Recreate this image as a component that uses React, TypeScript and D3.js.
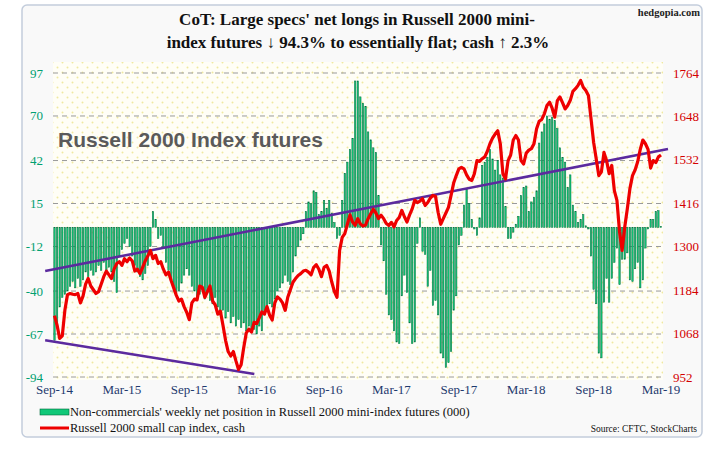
import React from "react";
import * as d3 from "d3";

const xLabels = ["Sep-14", "Mar-15", "Sep-15", "Mar-16", "Sep-16", "Mar-17", "Sep-17", "Mar-18", "Sep-18", "Mar-19"];
const leftTicks = [-94, -67, -40, -12, 15, 42, 70, 97];
const rightTicks = [952, 1068, 1184, 1300, 1416, 1532, 1648, 1764];

// Non-commercials' weekly net position (000), weekly Sep-14 .. Mar-19
const netPositions = [
  -71, -62, -50, -44, -42, -40, -37, -34, -38, -32, -37, -33, -28, -31, -27, -30, -28, -24, -27, -22,
  -29, -25, -28, -34, -41, -18, -14, -10, -7, -12, -18, -24, -28, -31, -33, -29, -24, -12, 10, 5,
  -7, -5, -12, -22, -27, -33, -37, -41, -40, -35, -30, -26, -30, -37, -40, -44, -42, -39, -45, -41,
  -46, -48, -44, -50, -55, -52, -57, -53, -60, -56, -62, -58, -63, -60, -65, -62, -66, -64, -67, -62,
  -65, -55, -52, -48, -50, -45, -40, -38, -35, -30, -34, -36, -28, -18, -12, -8, -4, 10, 16, 15,
  23, 22, 8, 10, 17, 12, 17, 9, 3, -7, -5, 17, 34, 41, 49, 56, 92, 92, 82, 78,
  76, 60, 55, 50, 47, 20, -11, -21, -42, -55, -58, -65, -72, -73, -43, -30, -41, -60, -73, -72,
  -10, 6, -15, -17, -37, -27, -49, -46, -55, -79, -82, -88, -85, -78, -52, -43, -11, -5, 14, 24,
  15, 5, -1, -5, 6, 39, 41, 44, 49, 43, 36, 42, 33, 31, 13, -7, -7, -3, 2, 7,
  20, 25, 26, 10, 16, 19, 23, 53, 60, 65, 70, 68, 69, 67, 62, 50, 44, 41, 25, 33,
  14, 10, 3, 5, 8, 1, -1, -18, -39, -48, -79, -82, -47, -32, -47, -32, -22, -13, -36, -20,
  -20, -16, -33, -34, -26, -22, -38, -33, -13, -1, 5, 5, 10, 10.5, 0.6,
];

// Russell 2000 small cap index, cash (weekly)
const russell = [
  1116, 1090, 1055, 1062, 1130, 1172, 1175, 1173, 1172, 1175, 1150, 1168, 1200, 1215, 1195, 1185, 1175, 1180, 1200, 1220,
  1235, 1225, 1215, 1240, 1255, 1260, 1250, 1268, 1260, 1270, 1262, 1235, 1240, 1228, 1245, 1262, 1275, 1290, 1268, 1277,
  1255, 1260, 1240, 1225, 1232, 1210, 1190, 1170, 1155, 1160, 1140, 1125, 1105, 1150, 1160, 1158, 1195, 1192, 1165, 1180,
  1195, 1155, 1145, 1120, 1128, 1090, 1050, 1020, 1008, 1020, 995, 972, 985, 1030, 1070, 1080, 1072, 1098, 1095, 1110,
  1126, 1120, 1140, 1117, 1104, 1150, 1166, 1160, 1150, 1130, 1165, 1185, 1205, 1215, 1223, 1228, 1235, 1237, 1232, 1225,
  1245, 1252, 1240, 1220, 1245, 1250, 1235, 1205, 1180, 1165, 1290, 1325, 1335, 1360, 1385, 1366, 1357, 1375, 1361, 1355,
  1358, 1375, 1388, 1400, 1390, 1375, 1384, 1375, 1362, 1357, 1365, 1353, 1370, 1378, 1397, 1380, 1366, 1385, 1401, 1424,
  1418, 1422, 1428, 1410, 1418, 1430, 1437, 1435, 1392, 1360, 1375, 1390, 1405, 1437, 1470, 1490, 1508, 1512, 1508, 1492,
  1480, 1477, 1495, 1530, 1528, 1535, 1540, 1555, 1575, 1590, 1601, 1610, 1575, 1495, 1481, 1530, 1545, 1585, 1597, 1585,
  1530, 1521, 1550, 1558, 1562, 1575, 1615, 1635, 1640, 1655, 1677, 1686, 1670, 1646, 1690, 1700, 1685, 1668, 1677, 1691,
  1715, 1722, 1731, 1744, 1726, 1717, 1704, 1642, 1579, 1535, 1490, 1500, 1552, 1530, 1495, 1517, 1450, 1424, 1340, 1290,
  1352, 1401, 1455, 1490, 1505, 1527, 1560, 1585, 1575, 1560, 1510, 1530, 1525, 1540, 1545,
];

// hand-drawn trend lines: [week index, index level]
const upperTrend: [number, number][] = [[-3.6, 1235], [236.7, 1561]];
const lowerTrend: [number, number][] = [[-3.6, 1050], [77.1, 960]];

const W = 724;
const H = 449;
const plotL = 53;
const plotR = 663;
const plotT = 73;
const plotB = 377;

export default function App() {
  const n = netPositions.length;
  const x = d3.scaleLinear().domain([0, n - 1]).range([54.5, 661]);
  const yL = d3.scaleLinear().domain([-94, 97]).range([plotB, plotT]);
  const yR = d3.scaleLinear().domain([952, 1764]).range([plotB, plotT]);
  const bw = 1.4;

  const line = d3
    .line<number>()
    .x((_, i) => x(i))
    .y((d) => yR(d))
    .curve(d3.curveLinear);

  const trend = d3
    .line<[number, number]>()
    .x((d) => x(d[0]))
    .y((d) => yR(d[1]));

  const serif = "'Liberation Serif', 'Times New Roman', serif";
  const sans = "'Liberation Sans', Arial, sans-serif";

  return (
    <svg
      width={W}
      height={H}
      style={{ position: "absolute", left: 0, top: 0, background: "#ffffff" }}
    >
      <defs>
        <pattern id="dots" width="10" height="10" patternUnits="userSpaceOnUse">
          <circle cx="2.5" cy="2.5" r="1" fill="#efe9a0" />
          <circle cx="7.5" cy="7.5" r="1" fill="#efe9a0" />
        </pattern>
      </defs>
      <rect x={22} y={5} width={680} height={432} rx={5} fill="#f9f9f9" stroke="#c3cddc" strokeWidth={1.5} />
      <rect x={plotL} y={62} width={plotR - plotL} height={318} fill="#fffef6" />
      <rect x={plotL} y={62} width={plotR - plotL} height={318} fill="url(#dots)" />

      {/* title */}
      <text x={700} y={16} textAnchor="end" fontFamily={serif} fontWeight="bold" fontSize={10.5} fill="#222">
        hedgopia.com
      </text>
      <text x={357} y={25} textAnchor="middle" fontFamily={serif} fontWeight="bold" fontSize={17} fill="#111">
        CoT: Large specs' net longs in Russell 2000 mini-
      </text>
      <text x={358} y={48} textAnchor="middle" fontFamily={serif} fontWeight="bold" fontSize={17} fill="#111">
        index futures ↓ 94.3% to essentially flat; cash ↑ 2.3%
      </text>

      {/* gridlines */}
      {leftTicks.map((t) => (
        <line
          key={t}
          x1={plotL}
          x2={plotR}
          y1={yL(t)}
          y2={yL(t)}
          stroke="#9a9a9a"
          strokeWidth={1}
          strokeDasharray="5,4"
        />
      ))}

      <text x={58} y={147} fontFamily={sans} fontWeight="bold" fontSize={21} fill="#5a5a5a">
        Russell 2000 Index futures
      </text>

      {/* bars */}
      {netPositions.map((v, i) => (
        <rect
          key={i}
          x={x(i) - bw / 2}
          y={yL(Math.max(0, v))}
          width={bw}
          height={Math.abs(yL(v) - yL(0))}
          fill="#10c878"
          stroke="#006b3c"
          strokeWidth={0.5}
        />
      ))}

      {/* trend lines */}
      <path d={trend(upperTrend) || ""} fill="none" stroke="#5b2a9e" strokeWidth={2.6} />
      <path d={trend(lowerTrend) || ""} fill="none" stroke="#5b2a9e" strokeWidth={2.6} />

      {/* russell line */}
      <path d={line(russell) || ""} fill="none" stroke="#ee0000" strokeWidth={3.2} strokeLinejoin="round" />

      {/* left axis labels */}
      {leftTicks.map((t) => (
        <text key={t} x={43} y={yL(t) + 4.5} textAnchor="end" fontFamily={serif} fontSize={13} fill="#00a070">
          {t}
        </text>
      ))}
      {/* right axis labels */}
      {rightTicks.map((t) => (
        <text key={t} x={673} y={yR(t) + 4.5} fontFamily={serif} fontSize={13} fill="#d40000">
          {t}
        </text>
      ))}
      {/* x labels */}
      {xLabels.map((l, k) => (
        <text
          key={l}
          x={x(k * 26)}
          y={394}
          textAnchor="middle"
          fontFamily={serif}
          fontSize={13}
          fill="#1f3a6e"
        >
          {l}
        </text>
      ))}

      {/* legend */}
      <rect x={40} y={409} width={29} height={6} fill="#10c878" stroke="#006b3c" strokeWidth={0.6} />
      <text x={70} y={416} fontFamily={serif} fontSize={12.5} fill="#111">
        Non-commercials' weekly net position in Russell 2000 mini-index futures (000)
      </text>
      <line x1={40} x2={69} y1={428} y2={428} stroke="#ee0000" strokeWidth={3} />
      <text x={70} y={432} fontFamily={serif} fontSize={12.5} fill="#111">
        Russell 2000 small cap index, cash
      </text>
      <text x={697} y={432} textAnchor="end" fontFamily={serif} fontSize={9.5} fill="#111">
        Source: CFTC, StockCharts
      </text>
    </svg>
  );
}
